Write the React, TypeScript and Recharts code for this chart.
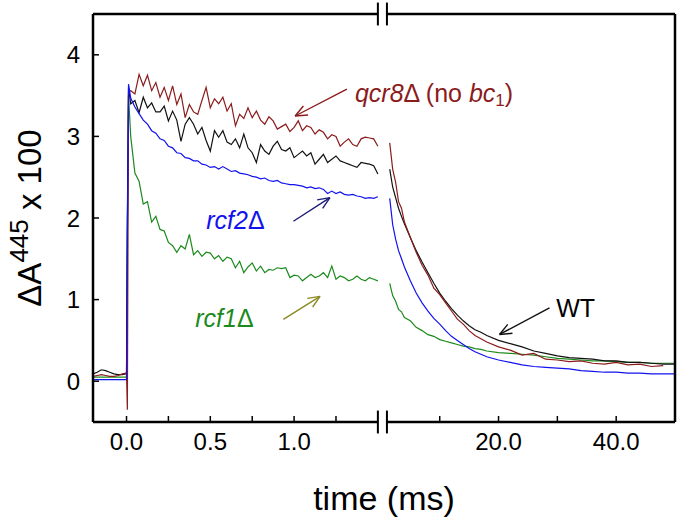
import { LineChart, Line, XAxis, YAxis, ReferenceLine, ReferenceDot, Label } from 'recharts';

// time grid of the fast (left) part, ms
const T_LEFT = [
  -0.2, -0.175, -0.15, -0.125, -0.1, -0.075, -0.05, -0.025, 0, 0.005, 0.012,
  0.025, 0.05, 0.075, 0.1, 0.125, 0.15, 0.175, 0.2, 0.225, 0.25, 0.275, 0.3,
  0.325, 0.35, 0.375, 0.4, 0.425, 0.45, 0.475, 0.5, 0.525, 0.55, 0.575, 0.6,
  0.625, 0.65, 0.675, 0.7, 0.725, 0.75, 0.775, 0.8, 0.825, 0.85, 0.875, 0.9,
  0.925, 0.95, 0.975, 1.0, 1.025, 1.05, 1.075, 1.1, 1.125, 1.15, 1.175, 1.2,
  1.225, 1.25, 1.275, 1.3, 1.325, 1.35, 1.375, 1.4, 1.425, 1.45, 1.475, 1.5,
];

const QCR8_LEFT = [
  0.06, 0.07, 0.08, 0.07, 0.06, 0.06, 0.07, 0.09, 0.1, -0.35, 3.55,
  3.56, 3.52, 3.76, 3.62, 3.75, 3.56, 3.66, 3.48, 3.6, 3.44, 3.62, 3.39,
  3.52, 3.23, 3.39, 3.3, 3.27, 3.44, 3.6, 3.35, 3.46, 3.4, 3.48, 3.31,
  3.4, 3.13, 3.27, 3.22, 3.35, 3.23, 3.31, 3.2, 3.15, 3.24, 3.19, 3.09,
  3.12, 3.15, 3.06, 3.11, 3.19, 3.07, 3.13, 3.11, 3.03, 3.08, 3.05, 2.97,
  3.02, 3.0, 2.88, 2.93, 2.97, 2.9, 2.88, 2.97, 2.99, 2.98, 2.97, 2.88,
];

const WT_LEFT = [
  0.09, 0.11, 0.14, 0.13, 0.11, 0.09, 0.08, 0.08, 0.09, 2.0, 3.6,
  3.4, 3.44, 3.29, 3.48, 3.35, 3.41, 3.3, 3.3, 3.37, 3.19, 3.31, 3.2,
  2.94, 3.15, 3.23, 3.15, 3.03, 3.11, 2.95, 2.82, 3.07, 2.99, 3.07, 2.93,
  2.9, 2.97, 2.86, 3.03, 2.86, 2.8, 2.68, 2.9, 2.82, 2.78, 2.88, 2.94,
  2.84, 2.82, 2.86, 2.74, 2.78, 2.82, 2.76, 2.8, 2.66, 2.72, 2.78, 2.68,
  2.72, 2.76, 2.7, 2.68, 2.66, 2.64, 2.62, 2.68, 2.67, 2.66, 2.64, 2.54,
];

const RCF2_LEFT = [
  0.02, 0.02, 0.02, 0.02, 0.02, 0.02, 0.02, 0.02, 0.02, 1.8, 3.64,
  3.47, 3.36, 3.28, 3.2, 3.15, 3.07, 3.04, 2.97, 2.95, 2.88, 2.86, 2.8,
  2.79, 2.74, 2.73, 2.7, 2.7, 2.66, 2.65, 2.62, 2.63, 2.6, 2.63, 2.6,
  2.57, 2.58, 2.55, 2.54, 2.53, 2.51, 2.5, 2.48, 2.49, 2.46, 2.45, 2.46,
  2.43, 2.42, 2.41, 2.41, 2.4, 2.39, 2.37, 2.38, 2.36, 2.37, 2.35, 2.3,
  2.33, 2.3, 2.32, 2.29, 2.28, 2.29, 2.27, 2.26, 2.24, 2.25, 2.24, 2.26,
];

const RCF1_LEFT = [
  0.05, 0.05, 0.05, 0.05, 0.05, 0.05, 0.05, 0.05, 0.05, 1.8, 3.5,
  3.0, 2.55, 2.45, 2.17, 2.2, 1.95, 2.02, 1.86, 1.84, 1.7, 1.66, 1.58,
  1.66, 1.62, 1.8, 1.55, 1.6, 1.53, 1.58, 1.57, 1.5, 1.54, 1.47, 1.52,
  1.5, 1.39, 1.47, 1.33, 1.4, 1.45, 1.35, 1.41, 1.33, 1.37, 1.36, 1.39,
  1.38, 1.39, 1.27, 1.3, 1.29, 1.23, 1.27, 1.31, 1.27, 1.29, 1.33, 1.27,
  1.41, 1.25, 1.29, 1.27, 1.23, 1.25, 1.29, 1.25, 1.23, 1.27, 1.25, 1.23,
];

// time grid of the slow (right) part, ms
const T_RIGHT = [
  1.5, 2, 2.5, 3, 3.5, 4, 5, 6, 7, 8, 9, 10, 11, 12, 13, 14, 15, 16, 17, 18,
  20, 22, 24, 26, 28, 30, 32, 34, 36, 38, 40, 42, 44, 46, 48, 50,
];

const QCR8_RIGHT = [
  2.92, 2.6, 2.44, 2.2, 2.12, 1.95, 1.76, 1.58, 1.42, 1.3, 1.14, 1.06, 0.96, 0.86, 0.76, 0.7, 0.62, 0.56, 0.52, 0.48,
  0.42, 0.38, 0.32, 0.34, 0.27, 0.26, 0.24, 0.25, 0.22, 0.21, 0.23, 0.2, 0.21, 0.18, 0.19, null,
];
const WT_RIGHT = [
  2.6, 2.38, 2.25, 2.12, 2.02, 1.93, 1.76, 1.6, 1.46, 1.33, 1.2, 1.08, 0.98, 0.89, 0.81, 0.74, 0.68, 0.63, 0.6, 0.56,
  0.5, 0.46, 0.42, 0.37, 0.34, 0.31, 0.29, 0.28, 0.27, 0.25, 0.25, 0.23, 0.23, 0.22, 0.21, 0.21,
];
const RCF2_RIGHT = [
  2.24, 1.92, 1.74, 1.6, 1.5, 1.4, 1.23, 1.08, 0.96, 0.86, 0.77, 0.7, 0.62, 0.55, 0.5, 0.45, 0.4, 0.36, 0.33, 0.3,
  0.26, 0.23, 0.2, 0.18, 0.17, 0.16, 0.15, 0.13, 0.12, 0.11, 0.11, 0.1, 0.1, 0.09, 0.09, 0.09,
];
const RCF1_RIGHT = [
  1.2, 1.05, 0.98, 0.88, 0.85, 0.78, 0.74, 0.66, 0.62, 0.57, 0.55, 0.51, 0.49, 0.47, 0.45, 0.43, 0.42, 0.4, 0.39, 0.37,
  0.35, 0.34, 0.33, 0.32, 0.3, 0.28, 0.27, 0.26, 0.25, 0.25, 0.24, 0.23, 0.23, 0.22, 0.22, 0.22,
];

const X_TICKS_LEFT = [0, 0.25, 0.5, 0.75, 1, 1.25];
const X_TICKS_RIGHT = [10, 20, 30, 40];
const X_TICK_LABELS: Record<number, string> = { 0: '0.0', 0.5: '0.5', 1: '1.0', 20: '20.0', 40: '40.0' };
const Y_TICKS = [0, 1, 2, 3, 4];

// broken x axis: left part is plain ms, right part is squeezed after the break
const X_MIN = -0.2;
const BREAK_L = 1.5;
const BREAK_R = 1.554;
const RIGHT_OFFSET = 1.518;
const RIGHT_SCALE = 0.0351;
const X_MAX = RIGHT_OFFSET + RIGHT_SCALE * 50;
const toU = (t: number, right: boolean) => (right ? RIGHT_OFFSET + RIGHT_SCALE * t : t);

const seg = (ts: number[], vs: (number | null)[], right: boolean) =>
  ts.map((t, i) => ({ u: toU(t, right), v: vs[i] }));

const tickList: number[] = [];
const tickText = new Map<number, string>();
X_TICKS_LEFT.forEach((t) => {
  tickList.push(toU(t, false));
  tickText.set(toU(t, false), X_TICK_LABELS[t] ?? '');
});
X_TICKS_RIGHT.forEach((t) => {
  tickList.push(toU(t, true));
  tickText.set(toU(t, true), X_TICK_LABELS[t] ?? '');
});

const RED = '#8b1c1c';
const BLUE = '#1212ee';
const GREEN = '#1d8a1d';
const BLACK = '#111111';
const FONT = '"Liberation Sans", Arial, sans-serif';

const SERIES = [
  { name: 'rcf1', color: GREEN, left: RCF1_LEFT, right: RCF1_RIGHT },
  { name: 'wt', color: BLACK, left: WT_LEFT, right: WT_RIGHT },
  { name: 'qcr8', color: RED, left: QCR8_LEFT, right: QCR8_RIGHT },
  { name: 'rcf2', color: BLUE, left: RCF2_LEFT, right: RCF2_RIGHT },
];

function arrowShape(color: string) {
  return (p: any) => {
    const { x1, y1, x2, y2 } = p;
    const a = Math.atan2(y2 - y1, x2 - x1);
    const len = 13;
    const sp = 0.4;
    return (
      <g stroke={color} strokeWidth={1.4} fill="none">
        <line x1={x1} y1={y1} x2={x2} y2={y2} />
        <line x1={x2} y1={y2} x2={x2 - len * Math.cos(a - sp)} y2={y2 - len * Math.sin(a - sp)} />
        <line x1={x2} y1={y2} x2={x2 - len * Math.cos(a + sp)} y2={y2 - len * Math.sin(a + sp)} />
      </g>
    );
  };
}

function textShape(color: string, parts: { t: string; it?: boolean; sub?: boolean }[]) {
  return (p: any) => (
    <text x={p.cx} y={p.cy} fill={color} fontSize={25} fontFamily={FONT} dominantBaseline="central">
      {parts.map((s, i) => (
        <tspan
          key={i}
          fontStyle={s.it ? 'italic' : 'normal'}
          fontSize={s.sub ? 17 : 25}
          dy={s.sub ? 7 : i > 0 && parts[i - 1].sub ? -7 : 0}
        >
          {s.t}
        </tspan>
      ))}
    </text>
  );
}

const YTitle = (props: any) => {
  const vb = props.viewBox;
  const x = vb.x + 41;
  const y = vb.y + vb.height / 2;
  return (
    <text x={x} y={y} transform={`rotate(-90, ${x}, ${y})`} textAnchor="middle" fontSize={33} fontFamily={FONT} fill="#000">
      <tspan>ΔA</tspan>
      <tspan fontSize={26} dy={-13}>445</tspan>
      <tspan dy={13}> x 100</tspan>
    </text>
  );
};

const XTitle = (props: any) => {
  const vb = props.viewBox;
  return (
    <text x={vb.x + vb.width / 2} y={vb.y + 88} textAnchor="middle" fontSize={34} fontFamily={FONT} fill="#000">
      time (ms)
    </text>
  );
};

const frame = { stroke: '#000', strokeWidth: 2.5 };

export default function App() {
  return (
    <div style={{ position: 'absolute', left: 0, top: 0, background: '#fff' }}>
      <LineChart width={677} height={519} margin={{ top: 13, right: 0, bottom: 0, left: 0 }}>
        <XAxis
          dataKey="u"
          type="number"
          domain={[X_MIN, X_MAX]}
          allowDataOverflow
          ticks={tickList}
          tickFormatter={(u: number) => tickText.get(u) ?? ''}
          tickSize={-6}
          tickMargin={17}
          tickLine={{ stroke: '#000', strokeWidth: 1.5 }}
          axisLine={false}
          tick={{ fill: '#000', fontSize: 24, fontFamily: FONT }}
          height={97}
          interval={0}
        >
          <Label content={XTitle} />
        </XAxis>
        <XAxis
          xAxisId="top"
          orientation="top"
          type="number"
          domain={[X_MIN, X_MAX]}
          allowDataOverflow
          ticks={tickList}
          tick={false}
          tickSize={-6}
          tickLine={{ stroke: '#000', strokeWidth: 1.5 }}
          axisLine={false}
          height={1}
          interval={0}
        />
        <YAxis
          type="number"
          domain={[-0.5, 4.5]}
          ticks={Y_TICKS}
          tickSize={-6}
          tickMargin={19}
          tickLine={{ stroke: '#000', strokeWidth: 1.5 }}
          axisLine={frame}
          tick={{ fill: '#000', fontSize: 24, fontFamily: FONT }}
          width={93}
          interval={0}
        >
          <Label content={YTitle} />
        </YAxis>
        <YAxis
          yAxisId="right"
          orientation="right"
          type="number"
          domain={[-0.5, 4.5]}
          ticks={Y_TICKS}
          tick={false}
          tickSize={-6}
          tickLine={{ stroke: '#000', strokeWidth: 1.5 }}
          axisLine={frame}
          width={2}
          interval={0}
        />

        {SERIES.map((s) => (
          <Line
            key={s.name + '-l'}
            data={seg(T_LEFT, s.left, false)}
            dataKey="v"
            type="linear"
            stroke={s.color}
            strokeWidth={1.2}
            dot={false}
            isAnimationActive={false}
          />
        ))}
        {SERIES.map((s) => (
          <Line
            key={s.name + '-r'}
            data={seg(T_RIGHT, s.right, true)}
            dataKey="v"
            type="linear"
            stroke={s.color}
            strokeWidth={1.2}
            dot={false}
            isAnimationActive={false}
          />
        ))}

        {/* broken frame on top and bottom */}
        <ReferenceLine segment={[{ x: X_MIN, y: 4.5 }, { x: BREAK_L, y: 4.5 }]} {...frame} ifOverflow="visible" />
        <ReferenceLine segment={[{ x: BREAK_R, y: 4.5 }, { x: X_MAX, y: 4.5 }]} {...frame} ifOverflow="visible" />
        <ReferenceLine segment={[{ x: X_MIN, y: -0.5 }, { x: BREAK_L, y: -0.5 }]} {...frame} ifOverflow="visible" />
        <ReferenceLine segment={[{ x: BREAK_R, y: -0.5 }, { x: X_MAX, y: -0.5 }]} {...frame} ifOverflow="visible" />
        {[BREAK_L, BREAK_R].map((b) => (
          <ReferenceLine key={'bt' + b} segment={[{ x: b, y: 4.36 }, { x: b, y: 4.64 }]} stroke="#000" strokeWidth={2} ifOverflow="visible" />
        ))}
        {[BREAK_L, BREAK_R].map((b) => (
          <ReferenceLine key={'bb' + b} segment={[{ x: b, y: -0.36 }, { x: b, y: -0.64 }]} stroke="#000" strokeWidth={2} ifOverflow="visible" />
        ))}

        {/* annotations */}
        <ReferenceLine segment={[{ x: 1.315, y: 3.58 }, { x: 1.006, y: 3.25 }]} shape={arrowShape(RED)} ifOverflow="visible" />
        <ReferenceLine segment={[{ x: 0.996, y: 1.96 }, { x: 1.214, y: 2.25 }]} shape={arrowShape('#1c1c7a')} ifOverflow="visible" />
        <ReferenceLine segment={[{ x: 0.936, y: 0.757 }, { x: 1.155, y: 1.04 }]} shape={arrowShape('#8a8a22')} ifOverflow="visible" />
        <ReferenceLine segment={[{ x: 2.524, y: 0.9 }, { x: 2.226, y: 0.573 }]} shape={arrowShape(BLACK)} ifOverflow="visible" />

        <ReferenceDot
          x={1.363}
          y={3.53}
          r={0}
          ifOverflow="visible"
          shape={textShape(RED, [
            { t: 'qcr8', it: true },
            { t: 'Δ (no ' },
            { t: 'bc', it: true },
            { t: '1', sub: true },
            { t: ')' },
          ])}
        />
        <ReferenceDot x={0.476} y={1.98} r={0} ifOverflow="visible" shape={textShape(BLUE, [{ t: 'rcf2', it: true }, { t: 'Δ' }])} />
        <ReferenceDot x={0.41} y={0.78} r={0} ifOverflow="visible" shape={textShape(GREEN, [{ t: 'rcf1', it: true }, { t: 'Δ' }])} />
        <ReferenceDot x={2.564} y={0.9} r={0} ifOverflow="visible" shape={textShape('#000', [{ t: 'WT' }])} />
      </LineChart>
    </div>
  );
}
